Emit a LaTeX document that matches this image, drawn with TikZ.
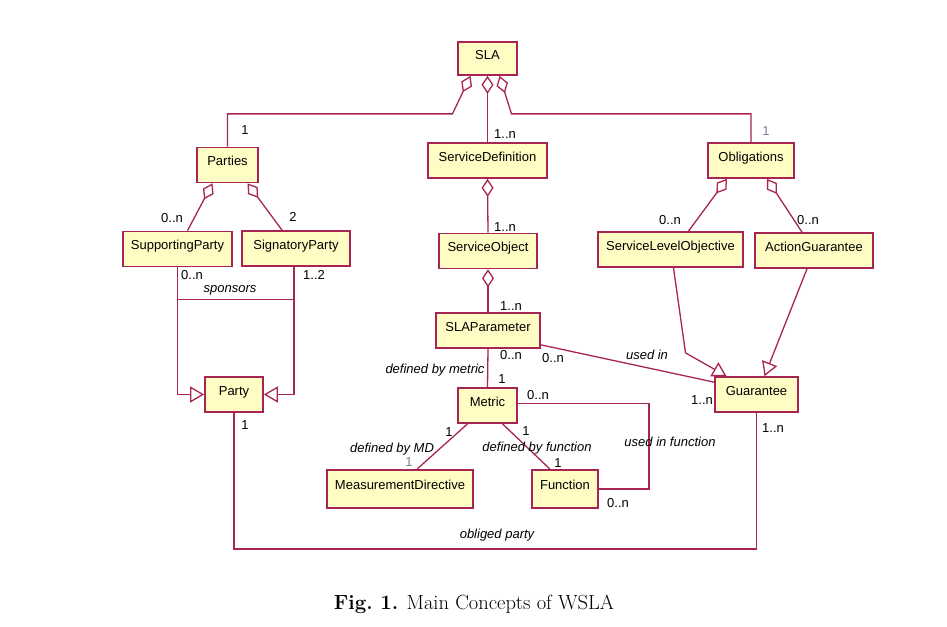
\documentclass[tikz,border=0pt]{standalone}
\usepackage{fontspec}
\newfontfamily\umlfont{Liberation Sans}
\usepackage{tikz}
\usetikzlibrary{arrows.meta, positioning}
\definecolor{umlline}{RGB}{168,36,82}
\definecolor{umlfill}{RGB}{255,252,196}
\definecolor{umlgrey}{RGB}{120,130,150}
\newcommand{\umlsize}{\umlfont\fontsize{13}{15}\selectfont}
\tikzstyle{umlbox} = [draw=umlline, fill=umlfill, line width=1.7pt, inner sep=0pt,
  minimum height=35pt, text height=9.5pt, text depth=8pt, font=\umlsize]

\begin{document}
\begin{tikzpicture}[x=1pt, y=-1pt, >=latex,
    assoc/.style={draw=umlline, line width=1.3pt},
    agg/.style={assoc, {Diamond[open, length=18pt, width=12pt]}-},
    gen/.style={assoc, -{Triangle[open, length=14pt, width=16pt]}},
    mult/.style={inner sep=0pt, font=\umlsize},
    role/.style={inner sep=0pt, font=\umlsize\itshape}]

    \useasboundingbox (0, 0) rectangle (947, 626);

    % The classes
    \node [umlbox, minimum width=59pt, minimum height=33pt] (SLA) at (487.5, 58.5) {SLA};
    \node [umlbox, minimum width=61pt] (Parties) at (227.5, 165) {Parties};
    \node [umlbox, minimum width=119pt] (ServiceDefinition) at (487.5, 160.5) {ServiceDefinition};
    \node [umlbox, minimum width=86pt] (Obligations) at (751, 160.5) {Obligations};
    \node [umlbox, minimum width=109pt] (SupportingParty) at (177.5, 249) {SupportingParty};
    \node [umlbox, minimum width=108pt] (SignatoryParty) at (296, 248.5) {SignatoryParty};
    \node [umlbox, minimum width=98pt] (ServiceObject) at (488, 251) {ServiceObject};
    \node [umlbox, minimum width=145pt] (SLO) at (670.5, 249.5) {ServiceLevelObjective};
    \node [umlbox, minimum width=118pt] (ActionGuarantee) at (814, 250.5) {ActionGuarantee};
    \node [umlbox, minimum width=104pt] (SLAParameter) at (488, 330.5) {SLAParameter};
    \node [umlbox, minimum width=58pt] (Party) at (234, 394.5) {Party};
    \node [umlbox, minimum width=59pt] (Metric) at (487.5, 405.5) {Metric};
    \node [umlbox, minimum width=83pt] (Guarantee) at (756.5, 394.5) {Guarantee};
    \node [umlbox, minimum width=146pt, minimum height=38pt] (MD) at (400, 489) {MeasurementDirective};
    \node [umlbox, minimum width=66pt, minimum height=38pt] (Function) at (565, 489) {Function};

    % Aggregations
    \draw [agg] ([xshift=-17pt]SLA.south) -- ++(-18, 38) -| (Parties.north);
    \draw [agg] (SLA.south) -- (ServiceDefinition.north);
    \draw [agg] ([xshift=12pt]SLA.south) -- ++(12, 38) -| (Obligations.north);
    \draw [agg] ([xshift=-15pt]Parties.south) -- ([xshift=10pt]SupportingParty.north);
    \draw [agg] ([xshift=20pt]Parties.south) -- ([xshift=-14pt]SignatoryParty.north);
    \draw [agg] (ServiceDefinition.south) -- (ServiceObject.north);
    \draw [agg] (ServiceObject.south) -- (SLAParameter.north);
    \draw [agg] ([xshift=-24pt]Obligations.south) -- ([xshift=18pt]SLO.north);
    \draw [agg] ([xshift=16pt]Obligations.south) -- ([xshift=-12pt]ActionGuarantee.north);

    % Generalizations
    \draw [gen] (SupportingParty.south) |- (Party.west);
    \draw [gen] ([xshift=-2pt]SignatoryParty.south) |- (Party.east);
    \draw [gen] ([xshift=3pt]SLO.south) -- ++(12, 85) -- ([xshift=-30pt]Guarantee.north);
    \draw [gen] ([xshift=-7pt]ActionGuarantee.south) -- ([xshift=8pt]Guarantee.north);

    % Associations
    \draw [assoc] (SupportingParty.south) -- ++(0, 32) -| ([xshift=-2pt]SignatoryParty.south);
    \draw [assoc] (SLAParameter.south) -- (Metric.north);
    \draw [assoc] ([yshift=4pt]SLAParameter.south east) -- ([yshift=-6pt]Guarantee.north west);
    \draw [assoc] ([xshift=-20pt]Metric.south) -- ([xshift=17pt]MD.north);
    \draw [assoc] ([xshift=15pt]Metric.south) -- ([xshift=-15pt]Function.north);
    \draw [assoc] ([yshift=2pt]Metric.east) -- ++(131, 0) |- (Function.east);
    \draw [assoc] (Party.south) -- ++(0, 136) -| (Guarantee.south);

    % Multiplicities
    \node [mult] (mParties) at (245, 130) {1};
    \node [mult] (mServiceDefinition) at (505, 134) {1..n};
    \node [mult, text=umlgrey] (mObligations) at (766, 131) {1};
    \node [mult] (mSupportingParty) at (172, 218) {0..n};
    \node [mult] (mSignatoryParty) at (293, 217) {2};
    \node [mult] (mSponsorsA) at (192, 275) {0..n};
    \node [mult] (mSponsorsB) at (314, 275) {1..2};
    \node [mult] (mServiceObject) at (505, 227) {1..n};
    \node [mult] (mSLAParameter) at (511, 306) {1..n};
    \node [mult] (mMetricA) at (511, 355) {0..n};
    \node [mult] (mUsedA) at (553, 358) {0..n};
    \node [mult] (mMetricB) at (502, 379) {1};
    \node [mult] (mUsedB) at (702, 400) {1..n};
    \node [mult] (mSLO) at (670, 220) {0..n};
    \node [mult] (mActionGuarantee) at (808, 220) {0..n};
    \node [mult] (mFunctionA) at (538, 395) {0..n};
    \node [mult] (mMDA) at (449, 432) {1};
    \node [mult, text=umlgrey] (mMDB) at (409, 462) {1};
    \node [mult] (mFunctionB) at (526, 431) {1};
    \node [mult] (mFunctionC) at (558, 463) {1};
    \node [mult] (mFunctionD) at (618, 503) {0..n};
    \node [mult] (mParty) at (245, 425) {1};
    \node [mult] (mGuarantee) at (773, 428) {1..n};

    % Role names
    \node [role] (sponsors) at (230, 290) {sponsors};
    \node [role] (usedin) at (647, 355) {used in};
    \node [role] (byMetric) at (435, 370) {defined by metric};
    \node [role] (byMD) at (392, 449) {defined by MD};
    \node [role] (byFunction) at (537, 448) {defined by function};
    \node [role] (inFunction) at (670, 442) {used in function};
    \node [role] (obliged) at (497, 535) {obliged party};

    % Caption
    \node (caption) at (474, 604) {\fontsize{20.5}{24}\selectfont\textbf{Fig.~1.} Main Concepts of WSLA};

\end{tikzpicture}
\end{document}
